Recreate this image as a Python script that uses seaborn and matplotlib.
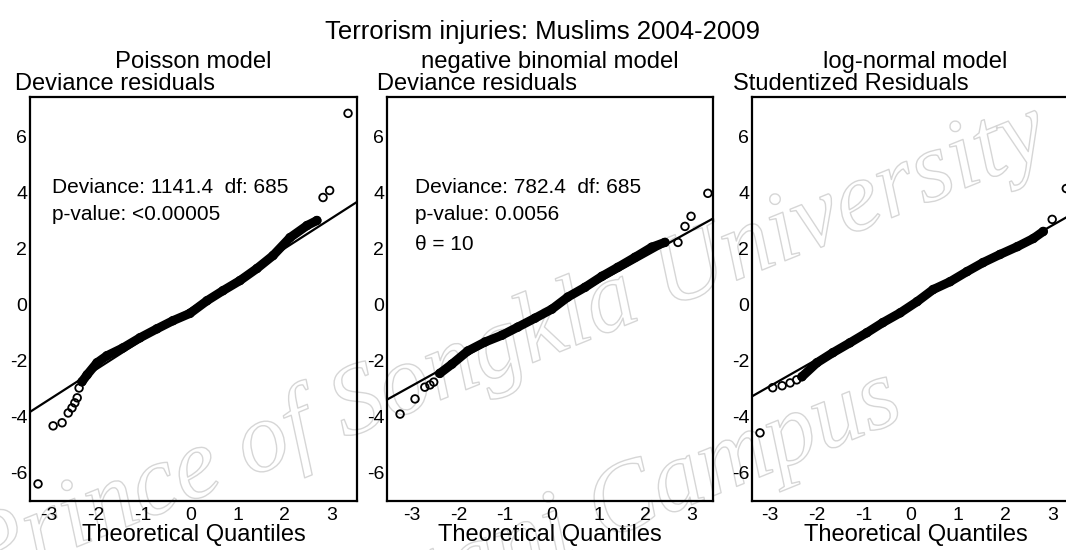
import numpy as np
import pandas as pd
import matplotlib
matplotlib.use("Agg")
import matplotlib.pyplot as plt
import matplotlib.patheffects as pe
import seaborn as sns

# ===============================
# DATA
# ===============================
models = ["Poisson model", "negative binomial model", "log-normal model"]
ylabels = ["Deviance residuals", "Deviance residuals", "Studentized Residuals"]
notes = [
    ["Deviance: 1141.4  df: 685", "p-value: <0.00005"],
    ["Deviance: 782.4  df: 685", "p-value: 0.0056", "\u03b8 = 10"],
    [],
]

# Poisson
pois_low_q = [-3.23, -2.91, -2.72, -2.59, -2.51, -2.45, -2.40, -2.36]
pois_low_r = [-6.39, -4.32, -4.21, -3.86, -3.68, -3.50, -3.32, -2.97]
pois_mid_q = [-2.30, -2.19, -1.98, -1.77, -1.43, -1.07, -0.71, -0.37, -0.01,
              0.35, 0.69, 1.05, 1.41, 1.75, 2.11, 2.47, 2.68]
pois_mid_r = [-2.75, -2.50, -2.07, -1.82, -1.54, -1.18, -0.86, -0.57, -0.31,
              0.14, 0.50, 0.86, 1.29, 1.75, 2.39, 2.82, 3.00]
pois_high_q = [2.81, 2.95, 3.34]
pois_high_r = [3.82, 4.07, 6.82]

# negative binomial
nb_low_q = [-3.25, -2.93, -2.72, -2.61, -2.53]
nb_low_r = [-3.90, -3.36, -2.94, -2.86, -2.76]
nb_mid_q = [-2.40, -2.14, -1.80, -1.43, -1.07, -0.73, -0.36, 0.00, 0.34,
            0.71, 1.07, 1.41, 1.78, 2.14, 2.42]
nb_mid_r = [-2.45, -2.12, -1.65, -1.33, -1.09, -0.80, -0.48, -0.16, 0.27,
            0.62, 1.01, 1.33, 1.69, 2.05, 2.22]
nb_high_q = [2.70, 2.85, 2.98, 3.34]
nb_high_r = [2.22, 2.79, 3.15, 3.97]

# log-normal
ln_low_q = [-3.21, -2.94, -2.74, -2.57, -2.43]
ln_low_r = [-4.57, -2.96, -2.89, -2.79, -2.68]
ln_mid_q = [-2.32, -2.00, -1.66, -1.30, -0.94, -0.60, -0.23, 0.13, 0.47,
            0.83, 1.19, 1.53, 1.89, 2.26, 2.60, 2.81]
ln_mid_r = [-2.57, -2.07, -1.71, -1.36, -1.00, -0.64, -0.29, 0.11, 0.54,
            0.82, 1.18, 1.50, 1.79, 2.07, 2.36, 2.61]
ln_high_q = [3.00, 3.30]
ln_high_r = [3.04, 4.14]

# reference (qq) lines
line_intercept = [-0.15, -0.12, -0.04]
line_slope = [1.08, 0.925, 0.955]

xticks = [-3, -2, -1, 0, 1, 2, 3]
yticks = [-6, -4, -2, 0, 2, 4, 6]

panels = [
    (pois_low_q, pois_low_r, pois_mid_q, pois_mid_r, pois_high_q, pois_high_r),
    (nb_low_q, nb_low_r, nb_mid_q, nb_mid_r, nb_high_q, nb_high_r),
    (ln_low_q, ln_low_r, ln_mid_q, ln_mid_r, ln_high_q, ln_high_r),
]

# ===============================
# STYLE
# ===============================
sns.set_theme(style="white")
plt.rcParams["font.family"] = ["Liberation Sans", "DejaVu Sans"]
plt.rcParams["axes.linewidth"] = 1.6
plt.rcParams["axes.edgecolor"] = "black"
plt.rcParams["text.color"] = "black"
plt.rcParams["axes.labelcolor"] = "black"

fig = plt.figure(figsize=(10.66, 5.5), dpi=100)

lefts = [30 / 1066, 387 / 1066, 752 / 1066]
widths = [327 / 1066, 326 / 1066, 327 / 1066]
xlims = [(-3.40, 3.53), (-3.53, 3.45), (-3.38, 3.57)]
ylab_dx = [-11, -7, -14]
note_x = [-2.93, -2.93]
note_y = [4.18, 3.22, 2.15]

for i, (lq, lr, mq, mr, hq, hr) in enumerate(panels):
    ax = fig.add_axes([lefts[i], 0.089, widths[i], 0.7345])
    ax.set_facecolor("none")

    # thick band of overlapping points
    sns.lineplot(x=mq, y=mr, sort=False, estimator=None, color="black",
                 linewidth=6.5, solid_capstyle="round", ax=ax)
    # all points as open circles
    pts = pd.DataFrame({"q": lq + mq + hq, "r": lr + mr + hr})
    sns.scatterplot(data=pts, x="q", y="r", marker="o", s=30,
                    facecolors="none", edgecolors="black", linewidth=1.3, ax=ax)
    ax.axline((0, line_intercept[i]), slope=line_slope[i], color="black",
              linewidth=1.6)

    ax.set_xlim(*xlims[i])
    ax.set_ylim(-7.0, 7.4)
    ax.set_xticks(xticks)
    ax.set_yticks(yticks)
    ax.set_xticklabels([str(t) for t in xticks])
    ax.set_yticklabels([str(t) for t in yticks])
    ax.tick_params(direction="in", length=4, width=1.4, labelsize=14,
                   colors="black", pad=2)
    ax.tick_params(axis="x", pad=4)
    ax.set_xlabel("Theoretical Quantiles", fontsize=17, labelpad=0)
    ax.set_ylabel("")
    ax.set_title(models[i], fontsize=17.2, pad=21)
    ax.annotate(ylabels[i], xy=(0, 1), xycoords="axes fraction",
                xytext=(ylab_dx[i], 9.5), textcoords="offset points",
                fontsize=17, ha="left", va="center")

    for j, line in enumerate(notes[i]):
        ax.text(note_x[i], note_y[j], line, fontsize=15, va="center",
                ha="left")

fig.text(0.509, 0.942, "Terrorism injuries: Muslims 2004-2009",
         fontsize=18.5, ha="center", va="center")

# faint watermark behind everything
wm = dict(fontsize=72, family="Liberation Serif", style="italic",
          ha="center", va="center", rotation=22, color="white", zorder=-5,
          path_effects=[pe.Stroke(linewidth=1.0, foreground="#d6d6d6")])
fig.text(0.475, 0.37, "Prince of Songkla University", **wm)
fig.text(0.56, 0.06, "Pattani Campus", **wm)

plt.savefig("out.png", dpi=100)
plt.close()
